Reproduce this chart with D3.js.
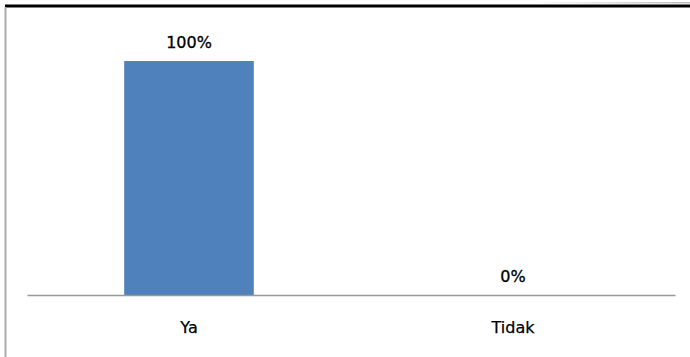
<!DOCTYPE html>
<html>
<head>
<meta charset="utf-8">
<script src="https://cdn.jsdelivr.net/npm/d3@7"></script>
<style>
html,body{margin:0;padding:0;background:#fff;}
svg{display:block;}
</style>
</head>
<body>
<script>
const categories = ["Ya", "Tidak"];
const values = [100, 0];
const valueLabels = ["100%", "0%"];

const W = 690, H = 357;
const svg = d3.select("body").append("svg").attr("width", W).attr("height", H);

// frame decorations
const defs = svg.append("defs");
const g1 = defs.append("linearGradient").attr("id", "fade").attr("x1", "0").attr("x2", "1");
g1.append("stop").attr("offset", "0").attr("stop-color", "#fff");
g1.append("stop").attr("offset", "0.6").attr("stop-color", "#fff");
g1.append("stop").attr("offset", "1").attr("stop-color", "#bbb");
svg.append("rect").attr("x", 300).attr("y", 2).attr("width", 390).attr("height", 1.5).attr("fill", "url(#fade)");
svg.append("rect").attr("x", 5).attr("y", 4.5).attr("width", 685).attr("height", 3).attr("fill", "#000");
svg.append("rect").attr("x", 4.5).attr("y", 7).attr("width", 2).attr("height", 350).attr("fill", "#aaa");

const x = d3.scaleBand().domain(categories).range([27, 675]).paddingInner(0.6).paddingOuter(0.3);
const y = d3.scaleLinear().domain([0, 100]).range([295, 61]);

svg.selectAll("rect.bar").data(values).enter().append("rect")
  .attr("class", "bar")
  .attr("x", (d, i) => x(categories[i]))
  .attr("y", d => y(d))
  .attr("width", x.bandwidth())
  .attr("height", d => y(0) - y(d))
  .attr("fill", "#4f81bd");

// axis
const axis = svg.append("g").attr("transform", `translate(0,${y(0)})`)
  .call(d3.axisBottom(x).tickSize(0).tickPadding(0));
axis.select(".domain").attr("stroke", "#999").attr("stroke-width", 1.5);
axis.selectAll(".tick text").remove();
axis.selectAll(".tick").append("text")
  .attr("y", 38)
  .attr("text-anchor", "middle")
  .attr("fill", "#000")
  .attr("stroke", "#000").attr("stroke-width", 0.25)
  .style("font-family", "'DejaVu Sans', sans-serif")
  .style("font-size", "16px")
  .text(d => d);

svg.selectAll("text.val").data(values).enter().append("text")
  .attr("class", "val")
  .attr("x", (d, i) => x(categories[i]) + x.bandwidth() / 2)
  .attr("y", d => y(d) - 13)
  .attr("text-anchor", "middle")
  .attr("fill", "#000")
  .attr("stroke", "#000").attr("stroke-width", 0.3)
  .style("font-family", "'DejaVu Sans', sans-serif")
  .style("font-size", "16px")
  .text((d, i) => valueLabels[i]);
</script>
</body>
</html>
